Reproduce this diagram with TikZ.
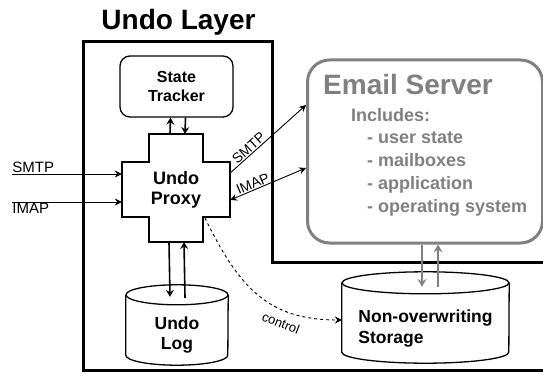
\documentclass[tikz,border=0pt]{standalone}
\usepackage{fontspec}
\setmainfont{Liberation Sans}
\usetikzlibrary{positioning}
\usetikzlibrary{arrows.meta}
\usetikzlibrary{calc}

\definecolor{srvgray}{RGB}{128,128,128}

\tikzset{
	box/.style={draw, line width=1.3pt, align=center, font=\fontsize{16}{18.5}\selectfont\bfseries},
	drum/.style={inner sep=0pt, font=\fontsize{17.5}{20.5}\selectfont\bfseries},
	rim/.style={line width=1.3pt},
	thickarr/.style={line width=1.6pt, -{Stealth[length=7pt,width=8pt,inset=2.5pt]}},
	thinarr/.style={line width=0.9pt, -{Stealth[length=7pt,width=7pt,inset=2.5pt]}},
	grayarr/.style={line width=2.4pt, draw=srvgray, -{Stealth[length=8pt,width=9pt,inset=3pt]}},
	lbl/.style={font=\fontsize{15}{18}\selectfont, inner sep=1pt},
}

\begin{document}
\begin{tikzpicture}[x=1pt, y=-1pt]
		\useasboundingbox (0,0) rectangle (543,374);
		
		% the undo layer frame, open at the right edge
		\draw[line width=3pt] (550,262) -- (272,262) -- (272,42) -- (83,42) -- (83,370) -- (550,370);
		\node[font=\fontsize{28}{32}\selectfont\bfseries, anchor=base] (title) at (178.5,30) {Undo Layer};
		
		\node[box, rounded corners=10pt, minimum width=113pt, minimum height=61pt] (tracker) at (176.5,86.5) {State\\Tracker};
		
		% cross shaped proxy
		\draw[line width=1.3pt] (149,134) -- (203,134) -- (203,162) -- (230,162) -- (230,217) -- (203,217) -- (203,242) -- (149,242) -- (149,217) -- (122,217) -- (122,162) -- (149,162) -- cycle;
		\node[align=center, minimum width=108pt, minimum height=55pt, font=\fontsize{18}{20}\selectfont\bfseries] (proxy) at (176,189.5) {Undo\\Proxy};
		\coordinate (armtop) at (176,134);
		\coordinate (armbot) at (176,242);
		\coordinate (ctl) at (205,218);
		
		% drums: the node is the body below the front of the top rim
		\node[drum, align=center, minimum width=102pt, minimum height=60pt] (log) at (177,335) {Undo\\Log};
		\draw[rim] ([yshift=10pt]log.north) ellipse [x radius=51pt, y radius=10pt];
		\draw[rim] ([yshift=10pt]log.north west) -- ([yshift=10pt]log.south west) arc [start angle=180, end angle=360, x radius=51pt, y radius=10pt] -- ([yshift=10pt]log.north east);
		
		\node[drum, align=left, minimum width=167pt, minimum height=69pt] (storage) at (425.5,328.5) {Non-overwriting\\Storage};
		\draw[rim] ([yshift=11pt]storage.north) ellipse [x radius=83.5pt, y radius=11pt];
		\draw[rim] ([yshift=11pt]storage.north west) -- ([yshift=11pt]storage.south west) arc [start angle=180, end angle=360, x radius=83.5pt, y radius=11pt] -- ([yshift=11pt]storage.north east);
		
		% email server
		\node[draw=srvgray, line width=3pt, rounded corners=22pt, minimum width=235pt, minimum height=183pt] (server) at (425,151.5) {};
		\node[anchor=base west, inner sep=0pt, text=srvgray, font=\fontsize{28}{32}\selectfont\bfseries] (srvtitle) at (323,95) {Email Server};
		\node[anchor=north west, inner sep=0pt, text=srvgray, align=left, font=\fontsize{18}{22.7}\selectfont\bfseries] (srvlist) at (351,108) {Includes:\\\hspace*{16pt}- user state\\\hspace*{16pt}- mailboxes\\\hspace*{16pt}- application\\\hspace*{16pt}- operating system};
		
		% incoming traffic
		\coordinate (smtpin) at (12,174);
		\coordinate (imapin) at (12,202);
		\draw[thinarr] (smtpin) node[lbl, above right, inner xsep=0pt] (smtplbl) {SMTP} -- (smtpin -| proxy.west);
		\draw[thinarr] (imapin) node[lbl, below right, inner xsep=0pt] (imaplbl) {IMAP} -- (imapin -| proxy.west);
		
		\draw[thinarr] ([yshift=16.5pt]proxy.east) -- node[lbl, font=\fontsize{14}{16}\selectfont, sloped, above, pos=0.3] (smtpout) {SMTP} ([yshift=46.5pt]server.west);
		\draw[thinarr, {Stealth[length=7pt,width=7pt,inset=2.5pt]}-{Stealth[length=7pt,width=7pt,inset=2.5pt]}] ([yshift=-10.5pt]proxy.east) -- node[lbl, font=\fontsize{14}{16}\selectfont, sloped, above, pos=0.33] (imapout) {IMAP} ([yshift=-16.5pt]server.west);
		
		\draw[thickarr] ([xshift=-6pt]armtop) -- ([xshift=-6pt]tracker.south);
		\draw[thickarr] ([xshift=9pt]tracker.south) -- ([xshift=9pt]armtop);
		\draw[thickarr] ([xshift=-7pt]armbot) -- ([xshift=-7pt,yshift=8pt]log.north);
		\draw[thickarr] ([xshift=8pt,yshift=7pt]log.north) -- ([xshift=8pt]armbot);
		
		\draw[grayarr] ([xshift=-3pt]server.south) -- ([xshift=-3.5pt,yshift=7pt]storage.north);
		\draw[grayarr] ([xshift=12.5pt,yshift=7pt]storage.north) -- ([xshift=13pt]server.south);
		
		\draw[thinarr, dashed] (ctl) .. controls (240,290) and (270,320) .. ([yshift=8.5pt]storage.west);
		\node[font=\fontsize{13}{15}\selectfont, rotate=-22] (ctllbl) at (281,323) {control};
		
\end{tikzpicture}
\end{document}
